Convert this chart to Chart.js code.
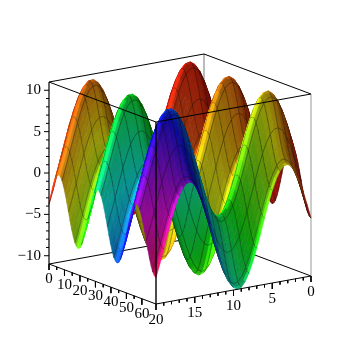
<!DOCTYPE html>
<html><head><meta charset="utf-8">
<style>html,body{margin:0;padding:0;background:#fff}canvas{display:block}</style>
<script src="https://cdn.jsdelivr.net/npm/chart.js@4/dist/chart.umd.js"></script>
</head><body><canvas id="c" width="355" height="355"></canvas>
<script>
// Surface height: contribution along the long axis ...
const longAxisHeight = [0,1.04,2,2.83,3.46,3.86,4,3.86,3.46,2.83,2,1.04,0,-1.04,-2,-2.83,-3.46,-3.86,-4,-3.86,-3.46,-2.83,-2,-1.04,
0,1.04,2,2.83,3.46,3.86,4,3.86,3.46,2.83,2,1.04,0,-1.04,-2,-2.83,-3.46,-3.86,-4,-3.86,-3.46,-2.83,-2,-1.04,
0,1.04,2,2.83,3.46,3.86,4,3.86,3.46,2.83,2,1.04,0,-1.04,-2,-2.83,-3.46,-3.86,-4];
// ... and along the short axis
const shortAxisHeight = [0,1.73,3.36,4.77,5.89,6.64,6.98,6.89,6.37,5.45,4.19,2.67,0.99,-0.76,-2.46,-4,-5.3,-6.27,-6.84,-7,-6.71,-6.01,-4.94,-3.56,-1.96,-0.23,1.51,3.15,4.6,5.76,6.57,6.96,6.93,6.46,5.59,4.37,2.89,1.22,-0.53,-2.24,-3.81];
const longTickLabels = [0,10,20,30,40,50,60];
const shortTickLabels = [0,5,10,15,20];
const heightTickLabels = [-10,-5,0,5,10];
const longMax = 69.115, shortMax = 20, zMin = -11, zMax = 11;

// parallel projection of the box
const uStep=longMax/(longAxisHeight.length-1), vStep=shortMax/(shortAxisHeight.length-1);
function proj(u,v,z){
  const ux=107/longMax, uy=40/longMax, vx=-155/shortMax, vy=28/shortMax, zy=182/(zMax-zMin);
  return {x:204+u*ux+v*vx, y:236+u*uy+v*vy-(z-zMin)*zy};
}
function hsv(h,s,v){
  h=((h%360)+360)%360;
  const f=n=>{const k=(n+h/60)%6;return v-v*s*Math.max(0,Math.min(k,4-k,1));};
  return `rgb(${Math.round(f(5)*255)},${Math.round(f(3)*255)},${Math.round(f(1)*255)})`;
}
// view basis of the cube: azimuth 55 deg, elevation 15 deg
const R=[0.574,-0.819,0], U=[-0.212,-0.148,0.966];
const dot3=(a,b)=>a[0]*b[0]+a[1]*b[1]+a[2]*b[2];
const ramp=(x,a,b)=>{const t=Math.max(0,Math.min(1,(x-a)/(b-a)));return t*t*(3-2*t);};
function shade(u,v,su,sv){
  const m=Math.hypot(su,sv,1), n=[-su/m,-sv/m,1/m];
  const nx=dot3(n,R), nup=dot3(n,U);
  const val=Math.min(1,0.58+0.5*ramp(-nx,0.3,0.85)+0.22*ramp(nup,0.45,1)-0.14*ramp(nx,0.5,0.95));
  return hsv(0.25*u*v,0.93,val);
}
const sets=[];
function line(pts,color,w){sets.push({data:pts,showLine:true,pointRadius:0,borderColor:color,borderWidth:w,fill:false,tension:0,clip:false});}
function seg(a,b,color,w){line([proj(...a),proj(...b)],color,w);}

// back of the box
const K='#000';
seg([0,shortMax,zMin],[0,0,zMin],K,1);
seg([0,0,zMin],[longMax,0,zMin],K,1);
seg([0,0,zMin],[0,0,zMax],'#777',1);
seg([0,shortMax,zMax],[0,0,zMax],K,1);
seg([0,0,zMax],[longMax,0,zMax],K,1);
seg([longMax,0,zMin],[longMax,0,zMax],'#aaa',1.2);

// surface, back to front
const nu=longAxisHeight.length-1, nv=shortAxisHeight.length-1;
const Z=(i,j)=>longAxisHeight[i]+shortAxisHeight[j];
const MESH='rgba(0,0,0,0.5)';
for(let i=0;i<nu;i++){
  for(let j=0;j<nv;j++){
    const u0=i*uStep,u1=(i+1)*uStep,v0=j*vStep,v1=(j+1)*vStep;
    const a=Z(i,j),b=Z(i+1,j),c=Z(i,j+1),d=Z(i+1,j+1);
    const su=((b-a)+(d-c))/2/uStep*(longMax/(zMax-zMin));
    const sv=((c-a)+(d-b))/2/vStep*(shortMax/(zMax-zMin));
    const col=shade((u0+u1)/2,(v0+v1)/2,su,sv);
    sets.push({data:[proj(u0,v0,a),proj(u1,v0,b),proj(u1,v1,d),proj(u0,v1,c),proj(u0,v0,a)],
      showLine:true,pointRadius:0,borderColor:col,backgroundColor:col,borderWidth:0.6,fill:'shape',tension:0,clip:false});
    if(i%4===0) line([proj(u0,v0,a),proj(u0,v1,c)],MESH,0.7);
    if(j%2===0) line([proj(u0,v0,a),proj(u1,v0,b)],MESH,0.7);
  }
}

// front of the box
seg([0,shortMax,zMax],[longMax,shortMax,zMax],K,1);
seg([longMax,shortMax,zMax],[longMax,0,zMax],K,1);
seg([longMax,shortMax,zMin],[longMax,shortMax,zMax],K,1.4);
seg([0,shortMax,zMin],[0,shortMax,zMax],K,1.2);
seg([0,shortMax,zMin],[longMax,shortMax,zMin],K,1);
seg([longMax,shortMax,zMin],[longMax,0,zMin],K,1);
const tick=(p,dx,dy,c)=>{line([p,{x:p.x+dx,y:p.y+dy}],c||K,1);};
for(let t=0;t<=60;t+=5) tick(proj(t,shortMax,zMin),0,t%10===0?6:3);
for(let t=0;t<=20;t+=1) tick(proj(longMax,t,zMin),0,t%5===0?6:3);
for(let t=-10;t<=10;t+=1) tick(proj(0,shortMax,t),t%5===0?-5:-3,0);

const labels={id:'axisText',afterDraw(ch){
  const g=ch.ctx,X=ch.scales.x,Y=ch.scales.y;
  g.save();g.fillStyle='#000';g.font='15px "Liberation Serif"';g.textBaseline='middle';
  const put=(s,p,al)=>{g.textAlign=al;g.fillText(s,X.getPixelForValue(p.x),Y.getPixelForValue(p.y));};
  longTickLabels.forEach(t=>{const p=proj(t,shortMax,zMin);put(String(t),{x:p.x,y:p.y+15},'center');});
  shortTickLabels.forEach(t=>{const p=proj(longMax,t,zMin);put(String(t),{x:p.x,y:p.y+16},'center');});
  heightTickLabels.forEach(t=>{const p=proj(0,shortMax,t);put(String(t).replace('-','\u2212'),{x:p.x-8,y:p.y},'right');});
  g.restore();
}};
// Chart.js paints its first dataset last, so hand the list over back to front reversed
sets.reverse();
new Chart(document.getElementById('c'),{
  type:'scatter',
  data:{datasets:sets},
  options:{responsive:false,animation:false,events:[],parsing:false,normalized:true,
    layout:{padding:0},
    plugins:{legend:{display:false},tooltip:{enabled:false},title:{display:false}},
    scales:{x:{type:'linear',min:0,max:355,display:false},y:{type:'linear',min:0,max:355,reverse:true,display:false}}},
  plugins:[labels]
});
</script></body></html>
